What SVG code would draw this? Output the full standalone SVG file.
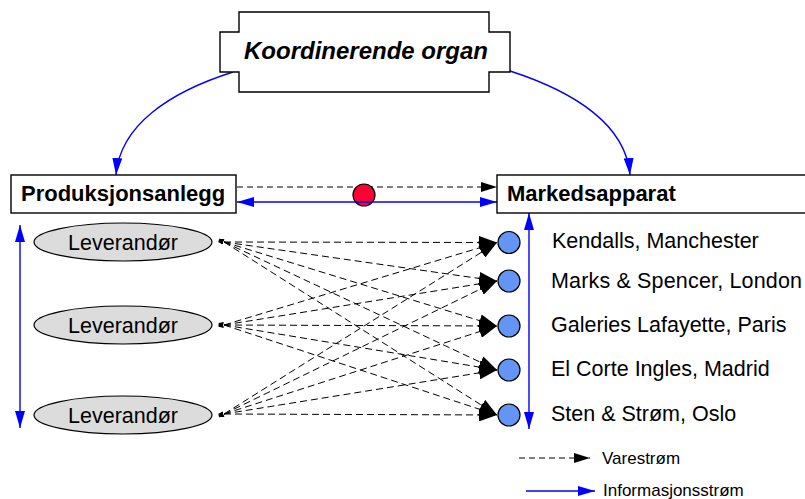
<svg xmlns="http://www.w3.org/2000/svg" width="805" height="499" viewBox="0 0 805 499">
<style>
.box{fill:#fff;stroke:#000;stroke-width:1.4}
.bold{font-family:"Liberation Sans",Arial,sans-serif;font-weight:bold;font-size:22px;fill:#000}
.reg{font-family:"Liberation Sans",Arial,sans-serif;font-size:21.5px;fill:#000}
.leg{font-family:"Liberation Sans",Arial,sans-serif;font-size:17px;fill:#000}
.ell{fill:#dcdcdc;stroke:#000;stroke-width:1.2}
.dot{fill:#6495f5;stroke:#000;stroke-width:1.2}
.dash{fill:none;stroke:#000;stroke-width:1;stroke-dasharray:6 4}
.flow{fill:none;stroke:#000;stroke-width:1;stroke-dasharray:7 4;marker-start:url(#tail);marker-end:url(#af)}
.info{fill:none;stroke:#0000ff;stroke-width:1.4}
</style>
<defs>
<marker id="ab" markerUnits="userSpaceOnUse" viewBox="0 0 16 10" markerWidth="16" markerHeight="10" refX="16" refY="5" orient="auto"><path d="M0,0 L16,5 L0,10 z" fill="#000"/></marker>
<marker id="af" markerUnits="userSpaceOnUse" viewBox="0 0 18 13" markerWidth="18" markerHeight="13" refX="18" refY="6.5" orient="auto"><path d="M0,0 L18,6.5 L0,13 z" fill="#000"/></marker>
<marker id="bb" markerUnits="userSpaceOnUse" viewBox="0 0 17 10" markerWidth="17" markerHeight="10" refX="17" refY="5" orient="auto-start-reverse"><path d="M0,0 L17,5 L0,10 z" fill="#0000ff"/></marker>
<marker id="tail" markerUnits="userSpaceOnUse" viewBox="0 0 7 5" markerWidth="7" markerHeight="5" refX="0" refY="2.5" orient="auto-start-reverse"><path d="M1,0 L6,2.5 L1,5 z" fill="#000"/></marker>
</defs>

<g id="connectors">
<path class="info" d="M233,72 C170,92 120,125 116,175" marker-end="url(#bb)"/>
<path class="info" d="M510,71 C575,92 626,125 630,175" marker-end="url(#bb)"/>
<line class="dash" x1="237" y1="187" x2="497" y2="187" marker-end="url(#ab)"/>
<circle id="red-dot" cx="364" cy="195" r="11" fill="#ff0033" stroke="#000" stroke-width="1.2"/>
<line class="info" x1="237" y1="202" x2="497" y2="202" marker-start="url(#bb)" marker-end="url(#bb)"/>
<line class="info" x1="20" y1="225" x2="20" y2="428" marker-start="url(#bb)" marker-end="url(#bb)"/>
<line class="info" x1="529" y1="213" x2="529" y2="429" marker-start="url(#bb)" marker-end="url(#bb)"/>
<g id="flows">
<line class="flow" x1="224" y1="242" x2="497" y2="242.5"/>
<line class="flow" x1="224" y1="242" x2="497" y2="281"/>
<line class="flow" x1="224" y1="242" x2="497" y2="326"/>
<line class="flow" x1="224" y1="242" x2="497" y2="370"/>
<line class="flow" x1="224" y1="242" x2="497" y2="415"/>
<line class="flow" x1="224" y1="325" x2="497" y2="242.5"/>
<line class="flow" x1="224" y1="325" x2="497" y2="281"/>
<line class="flow" x1="224" y1="325" x2="497" y2="326"/>
<line class="flow" x1="224" y1="325" x2="497" y2="370"/>
<line class="flow" x1="224" y1="325" x2="497" y2="415"/>
<line class="flow" x1="224" y1="414" x2="497" y2="242.5"/>
<line class="flow" x1="224" y1="414" x2="497" y2="281"/>
<line class="flow" x1="224" y1="414" x2="497" y2="326"/>
<line class="flow" x1="224" y1="414" x2="497" y2="370"/>
<line class="flow" x1="224" y1="414" x2="497" y2="415"/>
</g>
</g>

<g id="koordinerende">
<polygon class="box" points="239,12 489,12 489,32 510,32 510,72 489,72 489,92 239,92 239,72 220,72 220,32 239,32"/>
<text class="bold" x="366" y="59" font-style="italic" text-anchor="middle" style="font-size:24px">Koordinerende organ</text>
</g>

<g id="produksjonsanlegg">
<rect class="box" x="11" y="175" width="225" height="38"/>
<text class="bold" x="21" y="201">Produksjonsanlegg</text>
</g>

<g id="markedsapparat">
<rect class="box" x="497" y="175" width="320" height="38"/>
<text class="bold" x="507" y="201">Markedsapparat</text>
</g>

<g id="leverandor1">
<ellipse class="ell" cx="123" cy="242" rx="89" ry="19"/>
<text class="reg" x="123" y="249.5" text-anchor="middle">Leverandør</text>
</g>
<g id="leverandor2">
<ellipse class="ell" cx="123" cy="325" rx="89" ry="19"/>
<text class="reg" x="123" y="332.5" text-anchor="middle">Leverandør</text>
</g>
<g id="leverandor3">
<ellipse class="ell" cx="123" cy="415" rx="89" ry="19"/>
<text class="reg" x="123" y="422.5" text-anchor="middle">Leverandør</text>
</g>

<g id="kendalls">
<circle class="dot" cx="509" cy="242.5" r="11"/>
<text class="reg" x="552" y="248">Kendalls, Manchester</text>
</g>
<g id="marks">
<circle class="dot" cx="509" cy="281" r="11"/>
<text class="reg" x="551" y="288" textLength="251">Marks &amp; Spencer, London</text>
</g>
<g id="galeries">
<circle class="dot" cx="509" cy="326" r="11"/>
<text class="reg" x="551" y="332">Galeries Lafayette, Paris</text>
</g>
<g id="elcorte">
<circle class="dot" cx="509" cy="370" r="11"/>
<text class="reg" x="551" y="376">El Corte Ingles, Madrid</text>
</g>
<g id="sten">
<circle class="dot" cx="509" cy="415" r="11"/>
<text class="reg" x="551" y="421">Sten &amp; Strøm, Oslo</text>
</g>

<g id="legend">
<line class="dash" x1="519" y1="458" x2="590" y2="458" marker-end="url(#ab)"/>
<text class="leg" x="602" y="464">Varestrøm</text>
<line class="info" x1="526" y1="491" x2="595" y2="491" marker-end="url(#bb)"/>
<text class="leg" x="603" y="496">Informasjonsstrøm</text>
</g>
</svg>
